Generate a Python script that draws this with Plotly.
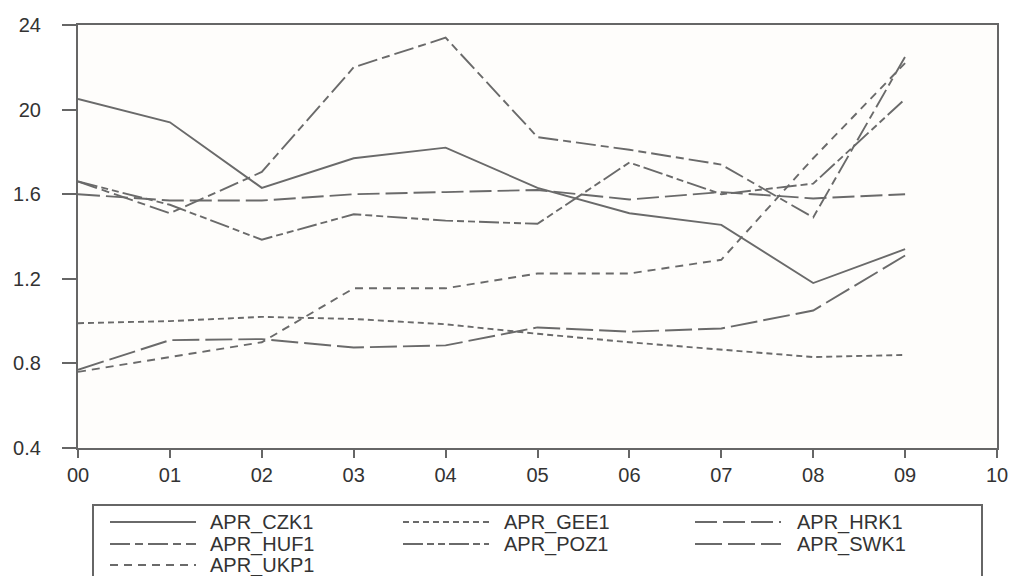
import plotly.graph_objects as go

years = [0, 1, 2, 3, 4, 5, 6, 7, 8, 9]
x_tick_vals = [0, 1, 2, 3, 4, 5, 6, 7, 8, 9, 10]
x_tick_text = ["00", "01", "02", "03", "04", "05", "06", "07", "08", "09", "10"]
y_tick_vals = [0.4, 0.8, 1.2, 1.6, 2.0, 2.4]
y_tick_text = ["0.4", "0.8", "1.2", "1.6", "20", "24"]

apr_czk1 = [2.05, 1.94, 1.63, 1.77, 1.82, 1.63, 1.51, 1.455, 1.18, 1.34]
apr_gee1 = [0.99, 1.00, 1.02, 1.01, 0.985, 0.94, 0.90, 0.865, 0.83, 0.84]
apr_hrk1 = [1.60, 1.57, 1.57, 1.60, 1.61, 1.62, 1.575, 1.61, 1.58, 1.60]
apr_huf1 = [1.66, 1.51, 1.705, 2.20, 2.34, 1.87, 1.81, 1.74, 1.49, 2.25]
apr_poz1 = [1.66, 1.55, 1.385, 1.505, 1.475, 1.46, 1.75, 1.60, 1.65, 2.05]
apr_swk1 = [0.77, 0.91, 0.915, 0.875, 0.885, 0.97, 0.95, 0.965, 1.05, 1.31]
apr_ukp1 = [0.76, 0.83, 0.90, 1.155, 1.155, 1.225, 1.225, 1.29, 1.77, 2.22]

names = ["APR_CZK1", "APR_GEE1", "APR_HRK1", "APR_HUF1", "APR_POZ1", "APR_SWK1", "APR_UKP1"]
series = [apr_czk1, apr_gee1, apr_hrk1, apr_huf1, apr_poz1, apr_swk1, apr_ukp1]
dashes = ["solid", "6px,4px", "22px,6px", "20px,5px,8px,5px",
          "20px,4px,7px,4px,7px,4px", "27px,6px", "8px,6px"]

line_color = "#6a6a6a"
frame_color = "#666666"
text_color = "#333333"

# figure geometry (page body margin removed, so figure fills the window)
W, H = 1010, 576
ML, MR, MT, MB = 78, 13, 25, 128
plot_x0, plot_x1 = ML, W - MR
plot_y0, plot_y1 = MT, H - MB


def px_x(p):
    return (p - plot_x0) / (plot_x1 - plot_x0)


def px_y(p):
    return (plot_y1 - p) / (plot_y1 - plot_y0)


fig = go.Figure()
for name, vals, d in zip(names, series, dashes):
    fig.add_trace(go.Scatter(x=years, y=vals, name=name, mode="lines", showlegend=False,
                             line=dict(color=line_color, width=1.9, dash=d)))

# legend (3 columns, drawn in the page area below the plot)
col_sample_x = [110, 403, 695]
col_text_x = [208, 502, 795]
row_y = [522, 544, 565]
sample_len = 86
shapes = [dict(type="rect", xref="paper", yref="paper",
               x0=px_x(93), x1=px_x(982), y0=px_y(505), y1=px_y(620),
               line=dict(color=frame_color, width=2), fillcolor="white", layer="below")]
annotations = []
for i, (name, d) in enumerate(zip(names, dashes)):
    r, c = divmod(i, 3)
    sx = col_sample_x[c]
    sy = row_y[r]
    shapes.append(dict(type="line", xref="paper", yref="paper",
                       x0=px_x(sx), x1=px_x(sx + sample_len), y0=px_y(sy), y1=px_y(sy),
                       line=dict(color=line_color, width=1.9, dash=d)))
    annotations.append(dict(text=name, xref="paper", yref="paper",
                            x=px_x(col_text_x[c]), y=px_y(sy), xanchor="left", yanchor="middle",
                            showarrow=False, font=dict(size=20, color=text_color)))

fig.update_layout(
    width=W, height=H,
    margin=dict(l=ML, r=MR, t=MT, b=MB, autoexpand=False),
    paper_bgcolor="white",
    plot_bgcolor="#fefdfb",
    font=dict(family="Liberation Sans, Arial", color=text_color),
    showlegend=False,
    shapes=shapes,
    annotations=annotations,
)
fig.update_xaxes(
    range=[0, 10], tickvals=x_tick_vals, ticktext=x_tick_text,
    showgrid=False, zeroline=False,
    showline=True, linecolor=frame_color, linewidth=2.2, mirror=True,
    ticks="outside", ticklen=8, tickcolor=frame_color, tickwidth=1.5,
    tickfont=dict(size=20, color=text_color),
)
fig.update_yaxes(
    range=[0.4, 2.4], tickvals=y_tick_vals, ticktext=y_tick_text,
    showgrid=False, zeroline=False,
    showline=True, linecolor=frame_color, linewidth=2.2, mirror=True,
    ticks="outside", ticklen=14, tickcolor=frame_color, tickwidth=1.5,
    ticklabelstandoff=17,
    tickfont=dict(size=20, color=text_color),
)

fig.write_html(
    "out.html",
    config={"displayModeBar": False},
    post_script="document.body.style.margin='0px';document.body.style.overflow='hidden';",
)
